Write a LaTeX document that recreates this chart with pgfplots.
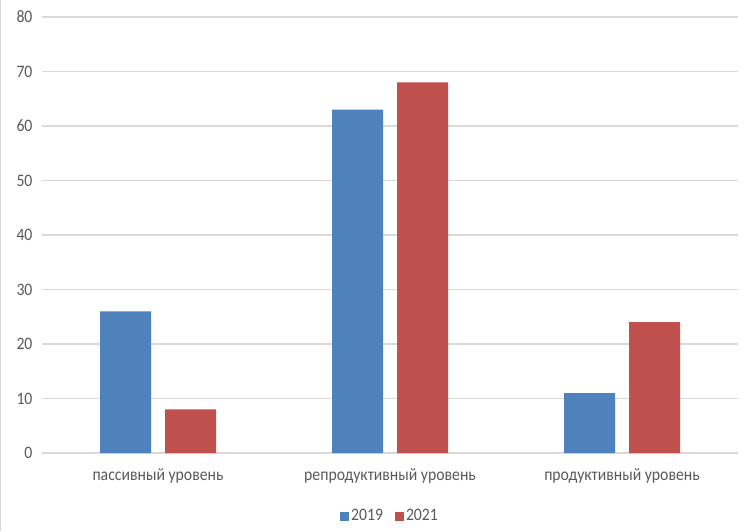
\documentclass[border=0pt]{standalone}
\usepackage{pgfplots}
\pgfplotsset{compat=1.18}
\usepackage{fontspec}
\setmainfont{Carlito}[FakeStretch=0.9]
\definecolor{cblue}{HTML}{4F81BD}
\definecolor{cred}{HTML}{C0504D}
\definecolor{cgrid}{HTML}{D9D9D9}
\definecolor{ctext}{HTML}{595959}
\begin{document}
\begin{tikzpicture}[x=1pt,y=1pt]
\path[use as bounding box] (0,0) rectangle (750,531);
\draw[cgrid, line width=1.2pt] (0.6,0) -- (0.6,531);
\begin{axis}[
  at={(42pt,78pt)}, anchor=south west,
  scale only axis, width=696pt, height=436pt,
  ybar=14pt, bar width=51pt,
  xmin=-0.5, xmax=2.5, ymin=0, ymax=80,
  xtick={0,1,2},
  xticklabels={пассивный уровень, репродуктивный уровень, продуктивный уровень},
  ytick={0,10,...,80},
  axis line style={draw=none},
  major tick length=0pt,
  ymajorgrids, grid style={cgrid, line width=1.3pt},
  tick label style={font=\fontsize{17.5}{20}\selectfont, text=ctext},
  /pgf/number format/assume math mode=true,
  yticklabel style={xshift=-6pt},
  xticklabel style={yshift=-12pt},
  legend style={at={(0.5,0)}, anchor=north, yshift=-52pt, draw=none, fill=none,
    legend columns=2, font=\fontsize{17.5}{20}\selectfont, text=ctext,
    /tikz/every even column/.append style={column sep=10pt}},
  legend image code/.code={\fill[#1] (0pt,-5pt) rectangle (9pt,4pt);},
]
\addplot[fill=cblue, draw=none] coordinates {(0,26) (1,63) (2,11)};
\addplot[fill=cred, draw=none] coordinates {(0,8) (1,68) (2,24)};
\legend{2019,2021}
\end{axis}
\end{tikzpicture}
\end{document}
